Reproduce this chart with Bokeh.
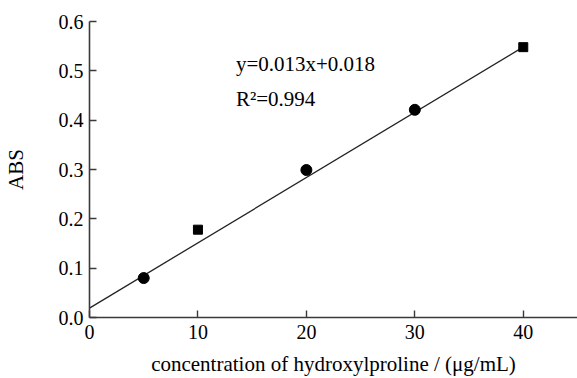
from bokeh.plotting import figure
from bokeh.models import Range1d, FixedTicker, Label, CustomJSTickFormatter
from bokeh.embed import file_html
from bokeh.resources import INLINE

# data
circle_x = [5, 20, 30]
circle_y = [0.080, 0.299, 0.421]
square_x = [10, 40]
square_y = [0.178, 0.548]
fit_x = [0, 40.2]
fit_y = [0.019, 0.551]
x_ticks = [0, 10, 20, 30, 40]
y_ticks = [0.0, 0.1, 0.2, 0.3, 0.4, 0.5, 0.6]
equation = "y=0.013x+0.018"
r2_text = "R\u00b2=0.994"
x_title = "concentration of hydroxylproline / (\u03bcg/mL)"
y_title = "ABS"

FONT = "Liberation Serif"
AX = "#3a3a3a"

p = figure(width=577, height=378, x_range=Range1d(0, 45), y_range=Range1d(0, 0.6),
           output_backend="svg", toolbar_location=None,
           min_border_left=88, min_border_right=0, min_border_top=21, min_border_bottom=61)
p.outline_line_color = None
p.grid.visible = False
p.background_fill_color = "white"
p.border_fill_color = "white"

p.line(fit_x, fit_y, line_color="#222222", line_width=1.3)
p.scatter(circle_x, circle_y, marker="circle", size=11, fill_color="black", line_color="black")
p.scatter(square_x, square_y, marker="square", size=9, fill_color="black", line_color="black")

for ax in (p.xaxis[0], p.yaxis[0]):
    ax.axis_line_color = AX
    ax.axis_line_width = 1.6
    ax.major_tick_line_color = AX
    ax.major_tick_line_width = 1.4
    ax.major_tick_in = 7
    ax.major_tick_out = 0
    ax.minor_tick_line_color = None
    ax.major_label_text_font = FONT
    ax.major_label_text_font_size = "20px"
    ax.major_label_text_color = "black"
    ax.axis_label_text_font = FONT
    ax.axis_label_text_font_size = "21px"
    ax.axis_label_text_font_style = "normal"
    ax.axis_label_text_color = "black"

p.xaxis.ticker = FixedTicker(ticks=x_ticks)
p.yaxis.ticker = FixedTicker(ticks=y_ticks)
p.yaxis.formatter = CustomJSTickFormatter(code="return tick.toFixed(1);")
p.xaxis.axis_label = x_title
p.yaxis.axis_label = y_title
p.xaxis.major_label_standoff = 7
p.xaxis.axis_label_standoff = 10
p.yaxis.major_label_standoff = 6
p.yaxis.axis_label_standoff = 28

p.add_layout(Label(x=13.5, y=0.514, text=equation, text_font=FONT, text_font_size="21px",
                   text_color="black", text_baseline="alphabetic"))
p.add_layout(Label(x=13.5, y=0.443, text=r2_text, text_font=FONT, text_font_size="21px",
                   text_color="black", text_baseline="alphabetic"))

open("out.html", "w").write(file_html(p, INLINE))
